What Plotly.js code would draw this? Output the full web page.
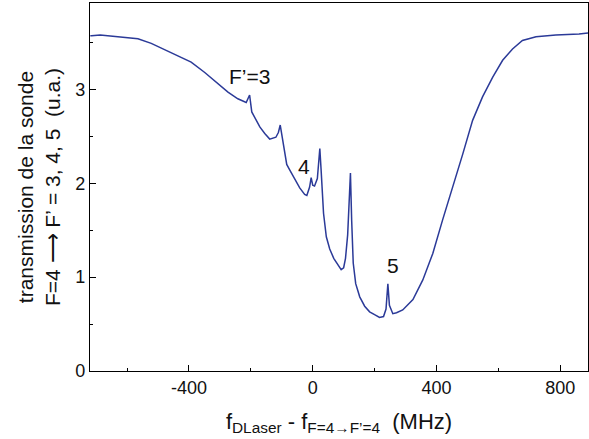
<!DOCTYPE html>
<html><head><meta charset="utf-8">
<script src="https://cdn.plot.ly/plotly-3.0.1.min.js"></script>
<style>html,body{margin:0;padding:0;background:#fff}#chart{width:589px;height:439px}</style>
</head><body><div id="chart"></div>
<script>
const freqMHz = [-719,-715,-687,-650,-618,-590,-565,-522,-478,-435,-393,-349,-306,-274,-242,-215,-204,-197,-184,-171,-155,-139,-119,-111,-105,-98,-90,-84,-74,-58,-42,-26,-19,-10,-5,0,6,15,19,23,27,32,35,44,55,68,81,92,100,106,113,118,122,126,131,139,152,168,184,200,216,229,237,243,248,259,271,291,324,356,388,420,453,485,517,549,582,614,646,678,722,786,861,890];
const transmission = [3.57,3.57,3.58,3.57,3.56,3.55,3.54,3.49,3.42,3.36,3.29,3.18,3.06,2.97,2.90,2.86,2.94,2.76,2.68,2.60,2.53,2.47,2.49,2.54,2.62,2.48,2.30,2.20,2.14,2.04,1.95,1.88,1.87,1.96,2.06,1.98,1.97,2.05,2.25,2.37,2.15,1.85,1.68,1.43,1.30,1.20,1.13,1.08,1.10,1.20,1.45,1.80,2.11,1.60,1.15,0.93,0.79,0.69,0.63,0.60,0.57,0.58,0.66,0.93,0.70,0.61,0.62,0.65,0.76,0.97,1.25,1.61,1.96,2.31,2.67,2.92,3.13,3.31,3.43,3.52,3.56,3.58,3.59,3.60];
const labelText = ["F’=3","4","5"];
const labelX = [-203,-29,258];
const labelY = [3.14,2.18,1.12];
const xTicks = [-400,0,400,800];
const yTicks = [0,1,2,3];

const font = {family:'"Liberation Sans", Arial, sans-serif', color:'#111'};
Plotly.newPlot('chart',[{
  x:freqMHz, y:transmission, type:'scatter', mode:'lines',
  line:{color:'#2b3a98', width:1.5}, hoverinfo:'none'
}],{
  width:589, height:439,
  margin:{l:90,r:1,t:3,b:68},
  paper_bgcolor:'#fff', plot_bgcolor:'#fff',
  showlegend:false,
  font:Object.assign({size:18},font),
  xaxis:{range:[-720,890], tickvals:xTicks, ticktext:xTicks.map(String),
    ticks:'inside', ticklen:6, tickcolor:'#000', showline:true, linecolor:'#000', linewidth:1.2,
    mirror:true, showgrid:false, zeroline:false,
    minor:{ticks:'inside', ticklen:3, dtick:200, tick0:0, tickcolor:'#000', showgrid:false},
    tickfont:Object.assign({size:18},font),
    title:{text:'f<sub>DLaser</sub> - f<sub>F=4→F’=4</sub>  (MHz)', font:Object.assign({size:22},font), standoff:16}},
  yaxis:{range:[0,3.92], tickvals:yTicks, ticktext:yTicks.map(String),
    ticks:'inside', ticklen:6, tickcolor:'#000', showline:true, linecolor:'#000', linewidth:1.2,
    mirror:true, showgrid:false, zeroline:false,
    minor:{ticks:'inside', ticklen:3, dtick:0.5, tick0:0, tickcolor:'#000', showgrid:false},
    tickfont:Object.assign({size:18},font),
    title:{text:'transmission de la sonde<br>F=4 ⟶ F’ = 3, 4, 5  (u.a.)', font:Object.assign({size:21},font), standoff:8}},
  annotations: labelText.map((t,i)=>({x:labelX[i], y:labelY[i], text:t, showarrow:false,
    font:Object.assign({size:21},font)}))
},{displayModeBar:false, staticPlot:true});
</script></body></html>
